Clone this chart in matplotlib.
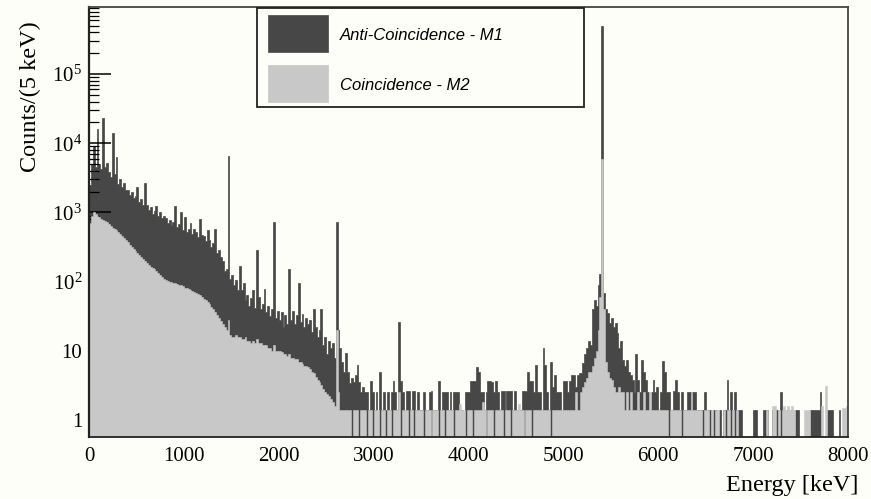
import numpy as np
import matplotlib
matplotlib.use('Agg')
import matplotlib.pyplot as plt
from matplotlib.patches import Rectangle
from matplotlib.ticker import LogLocator, FixedLocator, NullFormatter

# spectrum binning (values below are counts/(5 keV), one entry per 20 keV)
bin_width = 20

# Anti-Coincidence - M1
m1_counts = [
    2500, 5000, 9000, 4500, 16000, 5000, 4200, 23000, 4500, 5200,      # 0
    3800, 3200, 14000, 3600, 6300, 2600, 3000, 2300, 2700, 2100,       # 200
    2100, 1800, 2000, 1600, 1750, 2300, 1400, 1550, 1300, 2700,        # 400
    1300, 1100, 1200, 950, 1050, 1250, 900, 1000, 820, 880,            # 600
    820, 700, 780, 650, 720, 1250, 620, 680, 1000, 560,                # 800
    860, 520, 580, 710, 480, 570, 520, 440, 800, 470,                  # 1000
    460, 380, 550, 400, 320, 360, 570, 260, 290, 230,                  # 1200
    200, 140, 150, 6600, 110, 125, 90, 105, 75, 167,                   # 1400
    75, 95, 55, 65, 45, 58, 75, 42, 285, 60,                           # 1600
    40, 48, 78, 36, 45, 32, 40, 720, 30, 38,                           # 1800
    28, 36, 22, 33, 24, 150, 28, 38, 24, 33,                           # 2000
    95, 26, 34, 22, 30, 24, 28, 19, 40, 22,                            # 2200
    16, 20, 40, 12, 16, 9, 14, 11, 13, 8,                              # 2400
    720, 20, 11, 7, 5, 9.3, 5, 3.4, 4, 3.5,                            # 2600
    4.5, 6.2, 3.5, 2.5, 3, 2.5, 2.5, 1.4, 3.7, 2.5,                    # 2800
    1.4, 2.5, 0, 5, 1.4, 2.5, 1.4, 2.5, 1.4, 2.5,                      # 3000
    3.7, 2.5, 1.4, 26, 3.7, 2.5, 1.4, 2.6, 2.6, 1.4,                   # 3200
    2.6, 2.6, 1.4, 2.5, 1.4, 1.4, 2.5, 1.4, 1.4, 2.5,                  # 3400
    2.6, 1.4, 1.4, 1.4, 3.7, 1.4, 2.5, 2.5, 2.5, 1.4,                  # 3600
    2.5, 1.4, 2.5, 2.5, 2.5, 0, 1.4, 0, 2.5, 2.5,                      # 3800
    2.5, 3.7, 3.7, 3.7, 5.8, 5, 2.5, 2.5, 1.4, 2.5,                    # 4000
    3.7, 3.7, 3.5, 2.5, 3.7, 2.5, 1.4, 2.6, 2.6, 1.4,                  # 4200
    2.6, 2.6, 2.6, 1.4, 2.6, 1.4, 0, 1.4, 2.6, 2.6,                    # 4400
    2.6, 5, 3.7, 3.7, 2.5, 6.2, 2.5, 2.5, 1.4, 11,                     # 4600
    6.2, 2.5, 1.4, 7, 3, 4.5, 2.5, 2.5, 2.5, 1.4,                      # 4800
    3.7, 3.7, 2.5, 3.7, 4.5, 4.5, 3, 4.5, 4.8, 4.8,                    # 5000
    6.7, 9, 11, 14, 12, 40, 54, 45, 90, 130,                           # 5200
    490000, 68, 40, 35, 25, 30, 22, 25, 18, 11,                        # 5400
    14, 7.4, 6, 7.4, 5, 4.5, 3.8, 2.5, 9, 3.8,                         # 5600
    2.5, 7.4, 5, 3.8, 2.5, 1.4, 2.5, 3.8, 2.5, 3,                      # 5800
    1.4, 2.5, 7.1, 5, 2.5, 2.5, 1.4, 1.4, 2.6, 3.8,                    # 6000
    2.5, 1.4, 2.5, 1.4, 1.4, 2.5, 2.5, 1.4, 2.5, 2.5,                  # 6200
    1.4, 1.4, 1.4, 1.4, 2.5, 1.4, 1.4, 1.4, 0, 1.4,                    # 6400
    1.4, 0, 1.4, 0, 1.4, 1.4, 3.8, 1.4, 2.5, 1.4,                      # 6600
    2.5, 1.4, 1.4, 1.4, 0, 0, 0, 0, 0, 0,                              # 6800
    1.4, 1.4, 0, 0, 0, 1.4, 1.4, 1.4, 0, 0,                            # 7000
    1.4, 1.4, 1.4, 0, 2.5, 1.4, 1.4, 0, 1.4, 0,                        # 7200
    1.4, 0, 1.4, 1.4, 0, 0, 0, 0, 0, 0,                                # 7400
    1.4, 1.4, 1.4, 1.4, 1.4, 2.5, 0, 0, 0, 1.4,                        # 7600
    1.4, 1.4, 0, 0, 0, 1.4, 0, 0, 0, 0,                                # 7800
]

# Coincidence - M2
m2_counts = [
    700, 900, 1000, 950, 900, 850, 800, 780, 760, 720,                 # 0
    680, 640, 600, 570, 550, 520, 480, 450, 420, 400,                  # 200
    370, 340, 320, 300, 280, 260, 245, 230, 215, 200,                  # 400
    185, 175, 165, 158, 150, 140, 132, 125, 118, 110,                  # 600
    105, 103, 100, 98, 96, 95, 93, 90, 88, 85,                         # 800
    82, 80, 78, 76, 74, 70, 68, 66, 64, 60,                            # 1000
    57, 54, 50, 47, 43, 40, 36, 33, 30, 27,                            # 1200
    24, 22, 20, 28, 17, 16, 16, 17, 16, 16,                            # 1400
    15, 15, 16, 14, 14, 13, 14, 13, 15, 13,                            # 1600
    13, 12, 12, 12, 11, 11, 10, 12, 10, 10,                            # 1800
    10, 9.5, 9, 9, 8.5, 9, 8, 8, 7.5, 7.5,                             # 2000
    7, 7, 6.5, 6, 6, 5.8, 5.5, 5, 4.8, 4.2,                            # 2200
    3.8, 3.5, 3.2, 2.8, 2.5, 2.4, 2.2, 2, 1.8, 1.6,                    # 2400
    20, 2.5, 1.4, 1.4, 1.4, 1.4, 1.4, 1.4, 0, 1.4,                     # 2600
    1.4, 1.4, 0, 1.4, 1.4, 1.4, 0, 1.4, 1.4, 0,                        # 2800
    1.4, 1.4, 1.4, 0, 1.4, 1.4, 0, 1.4, 1.4, 0,                        # 3000
    1.4, 1.4, 1.4, 2.5, 0, 1.4, 1.4, 1.4, 0, 1.4,                      # 3200
    1.4, 0, 1.4, 1.4, 1.4, 1.4, 0, 1.4, 1.4, 1.4,                      # 3400
    0, 1.4, 1.4, 1.4, 0, 1.4, 1.4, 0, 1.4, 1.4,                        # 3600
    1.4, 1.4, 0, 1.4, 1.4, 1.7, 1.4, 1.4, 0, 1.4,                      # 3800
    1.4, 1.4, 0, 1.4, 1.4, 1.4, 1.4, 1.8, 1.4, 0,                      # 4000
    1.4, 1.4, 1.4, 0, 1.4, 1.4, 1.4, 1.4, 0, 1.4,                      # 4200
    1.4, 1.4, 0, 1.4, 1.4, 1.4, 1.7, 1.4, 1.4, 0,                      # 4400
    1.4, 1.4, 1.4, 0, 1.4, 1.4, 1.4, 1.4, 1.4, 1.4,                    # 4600
    1.4, 1.4, 1.4, 0, 1.4, 1.4, 1.4, 1.4, 1.4, 1.4,                    # 4800
    1.4, 1.4, 1.4, 1.4, 1.4, 1.4, 2.5, 1.4, 1.4, 2.5,                  # 5000
    3, 3.5, 4, 5, 5, 6, 8, 10, 20, 60,                                 # 5200
    6000, 40, 7, 5, 4, 3.8, 3, 2.5, 2.5, 3,                            # 5400
    2.5, 2.5, 1.4, 2.5, 1.4, 2.5, 1.4, 1.4, 1.4, 2.5,                  # 5600
    1.4, 1.4, 2.5, 1.4, 1.4, 2.5, 1.4, 1.4, 1.4, 1.4,                  # 5800
    1.4, 1.4, 1.4, 1.4, 1.4, 0, 1.4, 1.4, 1.4, 1.4,                    # 6000
    1.4, 1.4, 0, 1.4, 1.4, 1.4, 1.4, 2.5, 1.4, 1.4,                    # 6200
    1.4, 1.4, 1.4, 0, 1.4, 1.4, 1.4, 0, 1.4, 0,                        # 6400
    1.4, 1.4, 0, 0, 1.4, 0, 1.4, 1.4, 0, 1.4,                          # 6600
    0, 1.4, 0, 0, 0, 0, 0, 0, 0, 0,                                    # 6800
    0, 0, 0, 0, 0, 0, 0, 1.4, 0, 0,                                    # 7000
    1.6, 1.6, 0, 1.4, 0, 1.4, 1.6, 1.4, 1.6, 1.4,                      # 7200
    1.6, 1.4, 0, 0, 0, 0, 0, 1.4, 1.4, 1.4,                            # 7400
    0, 0, 0, 0, 0, 0, 1.6, 0, 3.1, 0,                                  # 7600
    0, 0, 0, 0, 0, 0, 0, 1.5, 1.5, 1.6,                                # 7800
]

x_ticks = [0, 1000, 2000, 3000, 4000, 5000, 6000, 7000, 8000]
y_ticks = [1, 10, 1e2, 1e3, 1e4, 1e5]
y_tick_labels = ['1', '10', r'$\mathregular{10^{2}}$', r'$\mathregular{10^{3}}$',
                 r'$\mathregular{10^{4}}$', r'$\mathregular{10^{5}}$']
legend_labels = ['Anti-Coincidence - M1', 'Coincidence - M2']

dark = '#474747'
light = '#c8c8c8'
bg = '#fefef8'

plt.rcParams['mathtext.fontset'] = 'custom'
plt.rcParams['mathtext.rm'] = 'Liberation Serif'
serif = 'Liberation Serif'

m1 = np.array(m1_counts, dtype=float)
m2 = np.array(m2_counts, dtype=float)
edges = np.arange(len(m1) + 1) * bin_width
floor = 0.1
m1 = np.where(m1 > 0, m1, floor)
m2 = np.where(m2 > 0, m2, floor)

fig = plt.figure(figsize=(8.71, 4.99), dpi=100, facecolor=bg)
ax = fig.add_axes([89 / 871, 1 - 437 / 499, (848 - 89) / 871, (437 - 7) / 499])
ax.set_facecolor(bg)

# histograms: M1 below the axis ticks, M2 on top of them (as in the original)
ax.stairs(m1, edges, baseline=floor, fill=True, facecolor=dark, edgecolor=dark,
          linewidth=0.5, zorder=1)
ax.stairs(m2, edges, baseline=floor, fill=True, facecolor=light, edgecolor=light,
          linewidth=0.4, zorder=3)

ax.set_yscale('log')
ax.set_xlim(0, 8000)
ax.set_ylim(0.568, 9.3e5)

ax.xaxis.set_major_locator(FixedLocator(x_ticks))
ax.set_xticklabels([str(t) for t in x_ticks], family=serif, fontsize=15)
ax.tick_params(axis='x', which='both', length=0, pad=7)

ax.yaxis.set_major_locator(FixedLocator(y_ticks))
ax.set_yticklabels(y_tick_labels, family=serif, fontsize=15)
ax.yaxis.set_minor_locator(LogLocator(base=10, subs=np.arange(2, 10), numticks=20))
ax.yaxis.set_minor_formatter(NullFormatter())
ax.tick_params(axis='y', which='major', direction='in', length=16, width=1.1,
               color='black', pad=5)
ax.tick_params(axis='y', which='minor', direction='in', length=7, width=0.9,
               color='black')

for side, sp in ax.spines.items():
    sp.set_zorder(5)
    sp.set_color('#222222' if side in ('left', 'bottom') else '#444444')
    sp.set_linewidth(1.6 if side == 'left' else 1.3)

fig.text(30 / 871, 1 - 97 / 499, 'Counts/(5 keV)', rotation=90, ha='center',
         va='center', family=serif, fontsize=17.5)
fig.text(858 / 871, 1 - 485 / 499, 'Energy [keV]', ha='right', va='center',
         family=serif, fontsize=17.5)

# legend box
fig.add_artist(Rectangle((257 / 871, 1 - 107 / 499), 327 / 871, 99 / 499,
                         transform=fig.transFigure, facecolor=bg,
                         edgecolor='#222222', linewidth=1.3, zorder=10))
for k, (lab, col) in enumerate(zip(legend_labels, [dark, light])):
    top = 15 + 50 * k
    fig.add_artist(Rectangle((268 / 871, 1 - (top + 37) / 499), 60 / 871, 37 / 499,
                             transform=fig.transFigure, facecolor=col,
                             edgecolor=col, linewidth=0.5, zorder=11))
    fig.text(340 / 871, 1 - (top + 20) / 499, lab, ha='left', va='center',
             family='Liberation Sans', style='italic', fontsize=12, zorder=12)

fig.savefig('out.png', dpi=100, facecolor=bg)
